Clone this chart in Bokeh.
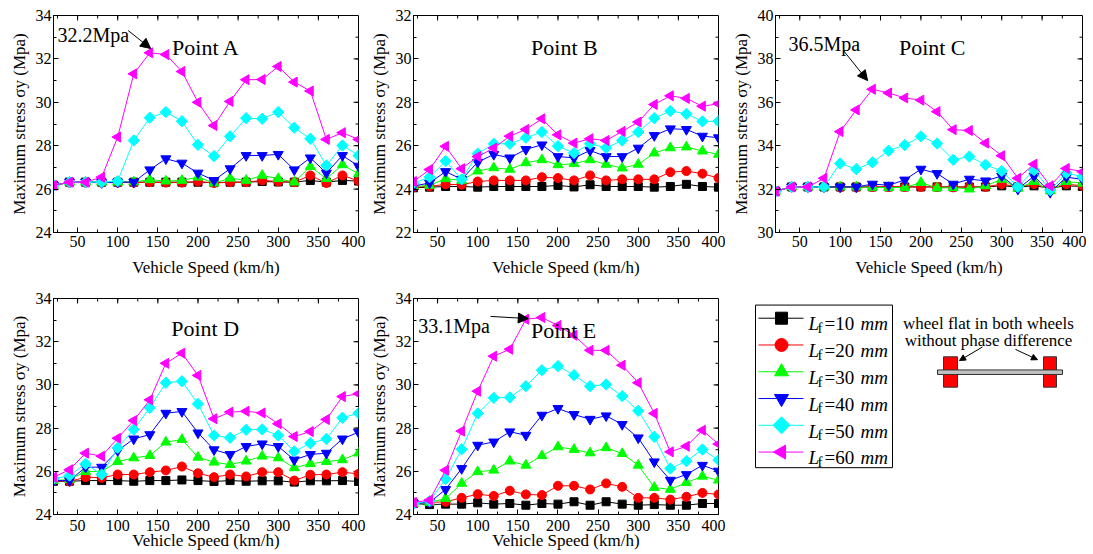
import numpy as np
from bokeh.plotting import figure
from bokeh.models import (Range1d, LinearAxis, SingleIntervalTicker, Label, Arrow,
                          NormalHead, ColumnDataSource)
from bokeh.layouts import row, column
from bokeh.embed import file_html
from bokeh.resources import INLINE
from bokeh.core.properties import value

# ---------------- data ----------------
speed = [20, 40, 60, 80, 100, 120, 140, 160, 180, 200, 220, 240, 260, 280, 300, 320, 340, 360, 380, 400]
flat_lengths = [10, 20, 30, 40, 50, 60]

A_10 = [26.17, 26.32, 26.32, 26.32, 26.32, 26.32, 26.32, 26.32, 26.32, 26.32, 26.30, 26.32, 26.32, 26.35, 26.33, 26.32, 26.40, 26.32, 26.40, 26.37]
A_20 = [26.17, 26.30, 26.30, 26.30, 26.30, 26.30, 26.32, 26.30, 26.30, 26.35, 26.28, 26.32, 26.32, 26.40, 26.35, 26.32, 26.63, 26.28, 26.63, 26.38]
A_30 = [26.17, 26.32, 26.32, 26.32, 26.32, 26.33, 26.43, 26.37, 26.40, 26.55, 26.28, 26.50, 26.40, 26.63, 26.48, 26.32, 27.04, 26.48, 27.12, 26.70]
A_40 = [26.17, 26.32, 26.32, 26.30, 26.32, 26.32, 26.89, 27.40, 27.20, 26.74, 26.40, 26.94, 27.55, 27.55, 27.60, 26.89, 27.44, 26.74, 27.55, 27.06]
A_50 = [26.17, 26.32, 26.32, 26.32, 26.37, 28.24, 29.29, 29.55, 29.13, 28.04, 27.52, 28.43, 29.27, 29.24, 29.55, 28.83, 28.32, 27.09, 28.01, 27.55]
A_60 = [26.17, 26.32, 26.32, 26.55, 28.40, 31.31, 32.28, 32.20, 31.42, 30.00, 28.93, 30.04, 31.04, 31.05, 31.65, 30.93, 30.52, 28.29, 28.60, 28.29]

B_10 = [24.06, 24.09, 24.12, 24.12, 24.09, 24.12, 24.12, 24.12, 24.12, 24.17, 24.10, 24.20, 24.12, 24.12, 24.12, 24.09, 24.12, 24.22, 24.12, 24.09]
B_20 = [24.09, 24.12, 24.22, 24.20, 24.35, 24.40, 24.40, 24.40, 24.55, 24.51, 24.40, 24.63, 24.40, 24.45, 24.45, 24.45, 24.78, 24.83, 24.71, 24.51]
B_30 = [24.12, 24.17, 24.48, 24.40, 24.83, 24.98, 24.91, 25.21, 25.35, 25.12, 25.17, 25.35, 25.14, 24.97, 25.14, 25.66, 25.90, 25.94, 25.75, 25.60]
B_40 = [24.14, 24.28, 24.81, 24.45, 25.24, 25.60, 25.44, 25.83, 26.04, 25.50, 25.44, 25.78, 25.50, 25.50, 25.89, 26.47, 26.78, 26.75, 26.44, 26.37]
B_50 = [24.28, 24.55, 25.29, 24.45, 25.63, 26.09, 26.09, 26.37, 26.63, 25.98, 25.66, 26.09, 25.90, 26.24, 26.63, 27.27, 27.60, 27.47, 27.12, 27.13]
B_60 = [24.35, 24.90, 25.97, 24.94, 25.50, 25.89, 26.44, 26.75, 27.24, 26.50, 26.12, 26.32, 26.24, 26.66, 27.09, 27.90, 28.30, 28.18, 27.82, 27.93]

C_10 = [31.90, 32.10, 32.10, 32.10, 32.10, 32.10, 32.10, 32.10, 32.10, 32.10, 32.10, 32.10, 32.10, 32.10, 32.15, 32.10, 32.15, 32.05, 32.15, 32.12]
C_20 = [31.90, 32.10, 32.10, 32.10, 32.08, 32.08, 32.10, 32.10, 32.10, 32.10, 32.10, 32.08, 32.10, 32.10, 32.23, 32.10, 32.23, 32.00, 32.23, 32.15]
C_30 = [31.90, 32.10, 32.10, 32.10, 32.10, 32.10, 32.08, 32.07, 32.07, 32.30, 32.05, 32.07, 32.00, 32.15, 32.45, 32.03, 32.35, 31.92, 32.35, 32.27]
C_40 = [31.90, 32.10, 32.10, 32.10, 32.10, 32.10, 32.23, 32.18, 32.42, 32.92, 32.72, 32.23, 32.46, 32.38, 32.60, 32.00, 32.60, 31.85, 32.55, 32.45]
C_50 = [31.90, 32.10, 32.10, 32.10, 33.18, 32.92, 33.23, 33.77, 34.03, 34.43, 34.10, 33.35, 33.50, 33.12, 32.83, 32.10, 32.88, 31.95, 32.74, 32.57]
C_60 = [31.90, 32.10, 32.10, 32.50, 34.65, 35.65, 36.60, 36.43, 36.20, 36.10, 35.57, 34.74, 34.70, 34.12, 33.54, 32.50, 33.15, 32.15, 32.95, 32.80]

D_10 = [25.54, 25.54, 25.57, 25.57, 25.57, 25.54, 25.57, 25.57, 25.60, 25.57, 25.53, 25.57, 25.54, 25.56, 25.56, 25.50, 25.56, 25.56, 25.57, 25.53]
D_20 = [25.57, 25.53, 25.73, 25.70, 25.85, 25.85, 25.96, 26.04, 26.22, 25.91, 25.73, 25.85, 25.76, 25.96, 25.96, 25.57, 25.84, 25.85, 25.96, 25.88]
D_30 = [25.57, 25.62, 25.99, 25.99, 26.45, 26.62, 26.73, 27.35, 27.47, 26.65, 26.42, 26.31, 26.47, 26.70, 26.62, 26.16, 26.35, 26.45, 26.53, 26.84]
D_40 = [25.57, 25.57, 26.19, 26.19, 26.96, 27.50, 27.70, 28.69, 28.77, 27.78, 27.00, 26.78, 27.15, 27.27, 27.15, 26.53, 26.78, 26.84, 27.50, 27.81]
D_50 = [25.65, 25.80, 26.35, 25.85, 27.09, 27.94, 28.94, 30.10, 30.17, 29.12, 27.66, 27.55, 27.92, 27.94, 27.66, 26.92, 27.30, 27.50, 28.48, 28.69]
D_60 = [25.73, 26.07, 26.84, 26.70, 27.53, 28.35, 29.31, 31.00, 31.47, 30.44, 28.43, 28.74, 28.78, 28.70, 28.20, 27.61, 27.84, 28.40, 29.46, 29.59]

E_10 = [24.51, 24.46, 24.48, 24.48, 24.54, 24.48, 24.51, 24.43, 24.51, 24.48, 24.59, 24.43, 24.59, 24.48, 24.43, 24.46, 24.43, 24.43, 24.51, 24.51]
E_20 = [24.51, 24.56, 24.59, 24.77, 24.94, 24.86, 25.10, 24.93, 24.90, 25.33, 25.33, 25.16, 25.44, 25.28, 24.77, 24.77, 24.69, 24.82, 25.00, 24.93]
E_30 = [24.51, 24.56, 24.74, 25.44, 25.98, 26.05, 26.47, 26.28, 26.72, 27.13, 27.01, 26.85, 27.09, 26.82, 26.28, 25.25, 25.16, 25.48, 25.77, 25.59]
E_40 = [24.51, 24.56, 25.16, 26.13, 27.21, 27.36, 27.83, 27.67, 28.60, 28.91, 28.63, 28.41, 28.57, 28.17, 27.55, 26.44, 25.59, 25.85, 26.28, 26.01]
E_50 = [24.51, 24.62, 25.64, 27.02, 28.68, 29.40, 29.42, 29.94, 30.68, 30.87, 30.45, 29.94, 30.02, 29.48, 28.80, 27.60, 26.13, 26.47, 27.01, 26.52]
E_60 = [24.56, 24.66, 26.05, 27.86, 29.71, 31.33, 31.65, 33.04, 33.12, 32.75, 32.30, 31.60, 31.60, 30.91, 30.10, 28.68, 26.90, 27.16, 27.90, 27.26]

# ---------------- styles ----------------
FONT = "Liberation Serif"
colors = ["#000000", "#FF0000", "#00FF00", "#0000FF", "#00FFFF", "#FF00FF"]
markers = ["square", "circle", "triangle", "inverted_triangle", "square", "triangle"]
angles = [0, 0, 0, 0, np.pi / 4, np.pi / 2]
msizes = [8, 9, 10, 10, 8, 10]
X_STEP, Y_STEP = 50, 2


def style_axis(ax, tick_standoff=2, label_standoff=4):
    ax.axis_line_color = "black"
    ax.major_tick_in = 5
    ax.major_tick_out = 0
    ax.minor_tick_in = 3
    ax.minor_tick_out = 0
    ax.major_tick_line_color = "black"
    ax.minor_tick_line_color = "black"
    ax.major_label_text_font = FONT
    ax.major_label_text_font_size = "16px"
    ax.major_label_text_color = "black"
    ax.major_label_standoff = tick_standoff
    ax.axis_label_text_font = FONT
    ax.axis_label_text_font_size = "17px"
    ax.axis_label_text_font_style = "normal"
    ax.axis_label_text_color = "black"
    ax.axis_label_standoff = label_standoff


def panel(series, ymin, ymax, fw, fh, bl, br, bt, bb, xtick_standoff, xlab_standoff):
    p = figure(frame_width=fw, frame_height=fh,
               x_range=Range1d(20, 400), y_range=Range1d(ymin, ymax),
               x_axis_location=None, y_axis_location=None,
               min_border_left=bl, min_border_right=br,
               min_border_top=bt, min_border_bottom=bb,
               output_backend="svg", toolbar_location=None)
    p.grid.visible = False
    p.outline_line_color = "black"
    p.outline_line_width = 1

    xb = LinearAxis(ticker=SingleIntervalTicker(interval=X_STEP, num_minor_ticks=2),
                    axis_label="Vehicle Speed (km/h)")
    style_axis(xb, xtick_standoff, xlab_standoff)
    p.add_layout(xb, "below")
    yl = LinearAxis(ticker=SingleIntervalTicker(interval=Y_STEP, num_minor_ticks=2),
                    axis_label="Maximum stress σy (Mpa)")
    style_axis(yl, 2, 4)
    p.add_layout(yl, "left")

    # mirrored inward ticks on the top and right frame edges
    x0, x1 = 20, 400
    px_x = (x1 - x0) / fw
    px_y = (ymax - ymin) / fh
    xmaj = np.arange(0, x1 + 1, X_STEP)
    xmaj = xmaj[(xmaj > x0) & (xmaj < x1)]
    xmin_ = np.arange(0, x1 + 1, X_STEP / 2)
    xmin_ = xmin_[(xmin_ > x0) & (xmin_ < x1)]
    ymaj = np.arange(ymin, ymax + 0.01, Y_STEP)[1:-1]
    ymin_ = np.arange(ymin, ymax + 0.01, Y_STEP / 2)[1:-1]
    p.segment(x0=xmin_, x1=xmin_, y0=[ymax] * len(xmin_), y1=[ymax - 3 * px_y] * len(xmin_),
              line_color="black", line_width=1)
    p.segment(x0=xmaj, x1=xmaj, y0=[ymax] * len(xmaj), y1=[ymax - 5 * px_y] * len(xmaj),
              line_color="black", line_width=1)
    p.segment(x0=[x1] * len(ymin_), x1=[x1 - 3 * px_x] * len(ymin_), y0=ymin_, y1=ymin_,
              line_color="black", line_width=1)
    p.segment(x0=[x1] * len(ymaj), x1=[x1 - 5 * px_x] * len(ymaj), y0=ymaj, y1=ymaj,
              line_color="black", line_width=1)

    for vals, c, m, a, s in zip(series, colors, markers, angles, msizes):
        src = ColumnDataSource(dict(x=speed, y=vals))
        p.line("x", "y", source=src, line_color=c, line_width=1)
        p.scatter("x", "y", source=src, marker=m, angle=a, size=s,
                  fill_color=c, line_color=c)
    return p


def add_label(p, x, y, text, size, align="left"):
    p.add_layout(Label(x=x, y=y, text=text, text_font=FONT, text_font_size=size,
                       text_align=align, text_baseline="alphabetic", text_color="black"))


def add_arrow(p, x0, y0, x1, y1, size=10):
    p.add_layout(Arrow(end=NormalHead(size=size, fill_color="black", line_color="black"),
                       x_start=x0, y_start=y0, x_end=x1, y_end=y1,
                       line_color="black", line_width=1))


pA = panel([A_10, A_20, A_30, A_40, A_50, A_60], 24, 34, 305, 217, 53, 7, 15, 58, 3, 8)
add_label(pA, 210, 32.53, "Point A", "22px", "center")
add_label(pA, 25, 33.08, "32.2Mpa", "20px")
add_arrow(pA, 113, 33.31, 141, 32.48)

pB = panel([B_10, B_20, B_30, B_40, B_50, B_60], 22, 32, 305, 217, 48, 7, 15, 58, 3, 8)
add_label(pB, 208, 30.53, "Point B", "22px", "center")

pC = panel([C_10, C_20, C_30, C_40, C_50, C_60], 30, 40, 307, 217, 50, 4, 15, 58, 3, 8)
add_label(pC, 214, 38.53, "Point C", "22px", "center")
add_label(pC, 36, 38.7, "36.5Mpa", "20px")
add_arrow(pC, 104, 38.39, 134, 37.0)

pD = panel([D_10, D_20, D_30, D_40, D_50, D_60], 24, 34, 305, 216, 53, 7, 8, 39, 5, -3)
add_label(pD, 209, 32.6, "Point D", "22px", "center")

pE = panel([E_10, E_20, E_30, E_40, E_50, E_60], 24, 34, 305, 216, 48, 7, 8, 39, 5, -3)
add_label(pE, 207, 32.52, "Point E", "22px", "center")
add_label(pE, 26, 32.75, "33.1Mpa", "20px")
add_arrow(pE, 116, 33.17, 163, 33.07)

# ---------------- legend + schematic panel (pixel coordinates) ----------------
LW, LH = 361, 263
pL = figure(width=LW, height=LH, x_range=Range1d(0, LW), y_range=Range1d(LH, 0),
            x_axis_location=None, y_axis_location=None, min_border=0,
            output_backend="svg", toolbar_location=None)
pL.outline_line_color = None
pL.grid.visible = False

pL.quad(left=[30], right=[167], top=[8], bottom=[206], fill_color=None, line_color="black", line_width=1)
ys = [24 + i * 32.6 for i in range(len(flat_lengths))]
for yy, c, m, a, s in zip(ys, colors, markers, angles, msizes):
    pL.segment(x0=[33], x1=[78], y0=[yy], y1=[yy], line_color=c, line_width=1)
    pL.scatter(x=[56], y=[yy], marker=m, angle=a, size=s + 4, fill_color=c, line_color=c)
base = [yy + 7 for yy in ys]
pL.text(x=[83] * 6, y=base, text=["L"] * 6, text_font=value(FONT), text_font_size="19px",
        text_font_style="italic", text_baseline="alphabetic", text_color="black")
pL.text(x=[92] * 6, y=[b + 5 for b in base], text=["f"] * 6, text_font=value(FONT),
        text_font_size="15px", text_baseline="alphabetic", text_color="black")
pL.text(x=[99] * 6, y=base, text=["=%d" % L for L in flat_lengths], text_font=value(FONT),
        text_font_size="19px", text_baseline="alphabetic", text_color="black")
pL.text(x=[135] * 6, y=base, text=["mm"] * 6, text_font=value(FONT), text_font_size="19px",
        text_font_style="italic", text_baseline="alphabetic", text_color="black")

pL.text(x=[263, 263], y=[30, 51], text=["wheel flat in both wheels", "without phase difference"],
        text_font=value(FONT), text_font_size="17px", text_align="center",
        text_baseline="alphabetic", text_color="black")
# wheels and axle
pL.quad(left=[218, 318], right=[232, 331], top=[71, 71], bottom=[108, 108],
        fill_color="#FF0000", line_color="#333333", line_width=1)
pL.quad(left=[212], right=[337], top=[87], bottom=[92.5],
        fill_color="#C0C0C0", line_color="#333333", line_width=1)
pL.add_layout(Arrow(end=NormalHead(size=6, fill_color="black", line_color="black"),
                    x_start=257, y_start=59, x_end=234, y_end=75.5, line_color="black", line_width=1))
pL.add_layout(Arrow(end=NormalHead(size=6, fill_color="black", line_color="black"),
                    x_start=290, y_start=62, x_end=312, y_end=74.5, line_color="black", line_width=1))

layout = column(row(pA, pB, pC), row(pD, pE, pL))
open("out.html", "w").write(file_html(layout, INLINE))
